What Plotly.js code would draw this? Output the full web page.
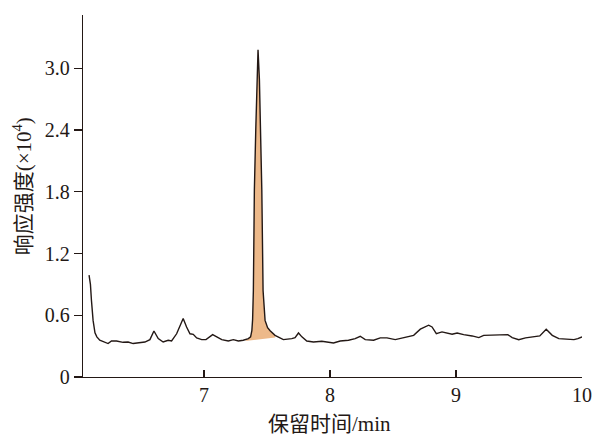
<!DOCTYPE html>
<html>
<head>
<meta charset="utf-8">
<script src="https://cdn.plot.ly/plotly-3.0.1.min.js"></script>
<style>html,body{margin:0;padding:0;background:#fff;}#chart{width:595px;height:436px;}</style>
</head>
<body>
<div id="chart"></div>
<script>
// Retention time (min) and response (×10^4)
const retentionTime = [
  6.088, 6.099, 6.107, 6.120, 6.135, 6.150, 6.173, 6.213, 6.239, 6.266,
  6.306, 6.358, 6.398, 6.438, 6.478, 6.531, 6.571, 6.603, 6.637, 6.676,
  6.716, 6.743, 6.783, 6.809, 6.835, 6.862, 6.889, 6.915, 6.942, 6.982,
  7.016, 7.069, 7.101, 7.141, 7.193, 7.233, 7.273, 7.312, 7.352, 7.370,
  7.380, 7.386, 7.392, 7.400, 7.411, 7.419, 7.429, 7.440, 7.448, 7.459,
  7.469, 7.485, 7.505, 7.525, 7.564, 7.590, 7.630, 7.697, 7.723, 7.750,
  7.777, 7.816, 7.869, 7.935, 7.975, 8.028, 8.081, 8.147, 8.200, 8.240,
  8.280, 8.346, 8.399, 8.452, 8.518, 8.584, 8.664, 8.717, 8.783, 8.810,
  8.844, 8.889, 8.929, 8.969, 9.009, 9.061, 9.128, 9.181, 9.220, 9.327,
  9.411, 9.446, 9.498, 9.552, 9.618, 9.665, 9.716, 9.764, 9.816, 9.883,
  9.936, 9.967, 10.000
];
const response = [
  0.990, 0.900, 0.746, 0.550, 0.430, 0.390, 0.357, 0.340, 0.325, 0.350,
  0.350, 0.337, 0.340, 0.325, 0.330, 0.340, 0.363, 0.447, 0.373, 0.340,
  0.357, 0.350, 0.420, 0.486, 0.568, 0.486, 0.420, 0.415, 0.380, 0.363,
  0.363, 0.412, 0.390, 0.363, 0.350, 0.363, 0.350, 0.357, 0.373, 0.390,
  0.450, 0.560, 0.840, 1.820, 2.400, 2.890, 3.180, 2.890, 2.400, 1.820,
  0.840, 0.550, 0.480, 0.450, 0.405, 0.385, 0.363, 0.373, 0.383, 0.428,
  0.390, 0.350, 0.340, 0.347, 0.340, 0.331, 0.350, 0.357, 0.373, 0.396,
  0.363, 0.357, 0.380, 0.380, 0.363, 0.383, 0.405, 0.465, 0.503, 0.486,
  0.422, 0.438, 0.428, 0.415, 0.428, 0.412, 0.399, 0.383, 0.405, 0.405,
  0.412, 0.383, 0.363, 0.380, 0.390, 0.399, 0.464, 0.405, 0.373, 0.367,
  0.363, 0.373, 0.390
];
// Integration baseline of the shaded peak
const peakBaseX = [7.326, 7.565];
const peakBaseY = [0.350, 0.383];

const yTickVals = [0, 0.6, 1.2, 1.8, 2.4, 3.0];
const yTickText = ['0', '0.6', '1.2', '1.8', '2.4', '3.0'];
const xTickVals = [7, 8, 9, 10];
const xTickText = ['7', '8', '9', '10'];

// Build the shaded polygon: baseline start, curve inside peak, baseline end
const fx = [peakBaseX[0]], fy = [peakBaseY[0]];
for (let i = 0; i < retentionTime.length; i++) {
  if (retentionTime[i] > peakBaseX[0] && retentionTime[i] < peakBaseX[1]) {
    fx.push(retentionTime[i]); fy.push(response[i]);
  }
}
fx.push(peakBaseX[1]); fy.push(peakBaseY[1]);

const ink = '#231815';
const serif = '"Liberation Serif", "Noto Sans CJK SC", serif';

const traces = [
  {x: fx, y: fy, type: 'scatter', mode: 'lines', fill: 'toself',
   fillcolor: '#EDB98A', line: {width: 0}, hoverinfo: 'skip', showlegend: false},
  {x: retentionTime, y: response, type: 'scatter', mode: 'lines',
   line: {color: ink, width: 1.4}, showlegend: false}
];

const layout = {
  width: 595, height: 436,
  margin: {l: 83, r: 13, t: 15, b: 59.3},
  paper_bgcolor: '#fff', plot_bgcolor: '#fff',
  showlegend: false,
  font: {family: serif, color: ink, size: 20},
  xaxis: {
    range: [6.04, 10.0], showgrid: false, zeroline: false,
    showline: true, linecolor: ink, linewidth: 1.3,
    ticks: 'inside', ticklen: 7, tickwidth: 1.3, tickcolor: ink,
    tickvals: xTickVals, ticktext: xTickText,
    tickfont: {family: serif, size: 20, color: ink}
  },
  yaxis: {
    range: [0, 3.518], showgrid: false, zeroline: false,
    showline: true, linecolor: ink, linewidth: 1.3,
    ticks: 'outside', ticklen: 8, tickwidth: 1.3, tickcolor: ink,
    tickvals: yTickVals, ticktext: yTickText,
    tickfont: {family: serif, size: 20, color: ink}
  },
  annotations: [
    {text: '保留时间/min', xref: 'paper', yref: 'paper', x: 0.493, y: -0.131,
     xanchor: 'center', yanchor: 'middle', showarrow: false,
     font: {family: serif, size: 21, color: ink}},
    {text: '响应强度(×10<sup>4</sup>)', xref: 'paper', yref: 'paper', x: -0.122, y: 0.527,
     xanchor: 'center', yanchor: 'middle', textangle: -90, showarrow: false,
     font: {family: serif, size: 21, color: ink}}
  ]
};

Plotly.newPlot('chart', traces, layout, {displayModeBar: false, staticPlot: true});
</script>
</body>
</html>
